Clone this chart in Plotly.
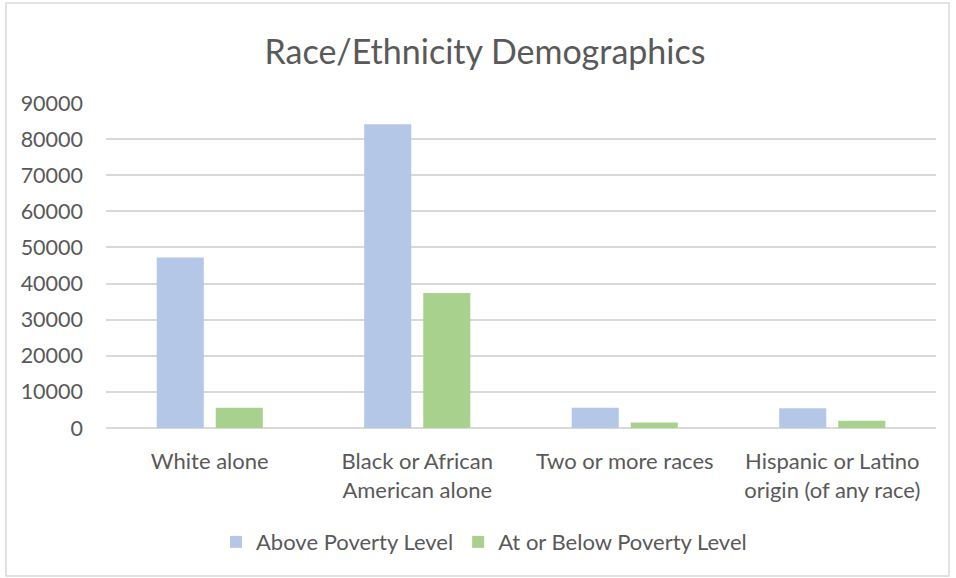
import plotly.graph_objects as go

categories = ["White alone", "Black or African<br>American alone", "Two or more races", "Hispanic or Latino<br>origin (of any race)"]
above = [47200, 84100, 5600, 5500]
below = [5600, 37400, 1500, 2000]
series_names = ["Above Poverty Level", "At or Below Poverty Level"]
tick_vals = [0, 10000, 20000, 30000, 40000, 50000, 60000, 70000, 80000, 90000]

FONT = "Lato"
GRAY = "#595959"

fig = go.Figure()
fig.add_trace(go.Bar(x=categories, y=above, name=series_names[0], marker=dict(color="#B4C7E7", line=dict(width=0))))
fig.add_trace(go.Bar(x=categories, y=below, name=series_names[1], marker=dict(color="#A9D18E", line=dict(width=0))))

fig.update_layout(
    width=956, height=578,
    margin=dict(l=106, r=20, t=103, b=150),
    paper_bgcolor="white", plot_bgcolor="white",
    barmode="group", bargap=0.431, bargroupgap=0.203,
    title=dict(text="Race/Ethnicity Demographics", x=485 / 956, xanchor="center", y=1 - 52 / 578, yanchor="middle",
               font=dict(family=FONT, size=34, color=GRAY)),
    font=dict(family=FONT, size=21, color=GRAY),
    legend=dict(orientation="h", x=(484 - 106) / 830, xanchor="center", y=-0.351, yanchor="middle",
                font=dict(family=FONT, size=22, color=GRAY), itemwidth=30, traceorder="normal"),
    xaxis=dict(showgrid=False, showline=False, ticks="", ticklabelstandoff=18,
               tickfont=dict(family=FONT, size=22, color=GRAY)),
    yaxis=dict(range=[0, 90000], tickvals=tick_vals, ticktext=[str(v) for v in tick_vals],
               showgrid=True, gridcolor="#D9D9D9", gridwidth=1.5, zeroline=True, zerolinecolor="#D9D9D9",
               zerolinewidth=1.5, showline=False, ticks="", ticklabelstandoff=22,
               tickfont=dict(family=FONT, size=21.5, color=GRAY)),
    shapes=[dict(type="rect", xref="paper", yref="paper", x0=-0.1205, x1=1.0157, y0=-0.4554, y1=1.3077,
                 line=dict(color="#D9D9D9", width=1.5), fillcolor="rgba(0,0,0,0)", layer="below")],
)

fig.write_html("out.html")
